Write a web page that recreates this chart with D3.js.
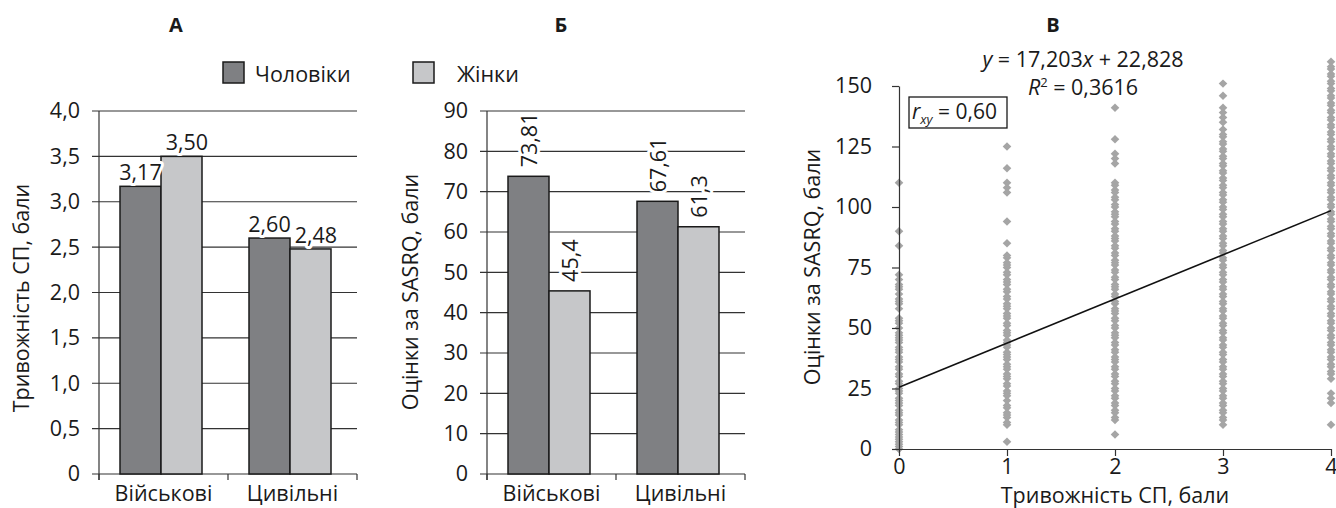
<!DOCTYPE html>
<html><head><meta charset="utf-8">
<script src="https://cdn.jsdelivr.net/npm/d3@7"></script>
<style>
body{margin:0;background:#fff;}
svg text{font-family:"Open Sans",sans-serif;fill:#1a1a1a;}
</style></head>
<body><svg id="c" width="1336" height="508"></svg>
<script>
// ---------- data ----------
const categories = ["Військові", "Цивільні"];
const seriesNames = ["Чоловіки", "Жінки"];
const anxietyMen = [3.17, 2.60];
const anxietyWomen = [3.50, 2.48];
const anxietyLabels = [["3,17", "2,60"], ["3,50", "2,48"]];
const sasrqMen = [73.81, 67.61];
const sasrqWomen = [45.4, 61.3];
const sasrqLabels = [["73,81", "67,61"], ["45,4", "61,3"]];
const ticksA = [0, 0.5, 1, 1.5, 2, 2.5, 3, 3.5, 4];
const ticksB = [0, 10, 20, 30, 40, 50, 60, 70, 80, 90];
const ticksCx = [0, 1, 2, 3, 4];
const ticksCy = [0, 25, 50, 75, 100, 125, 150];
// scatter: SASRQ scores at each anxiety level
const scoresAt0 = [0,1,2,3,4,5,6,7,8,10,11,12,14,15,16,18,19,20,21,23,24,25,27,28,30,31,33,34,36,37,38,40,41,42,44,45,46,47,48,50,52,53,54,58,60,61,62,64,66,67,68,70,72,84,90,110];
const scoresAt1 = [3,10,11,13,14,15,17,18,20,22,23,24,26,27,29,30,31,33,34,35,37,38,39,40,42,43,44,45,47,48,49,51,52,54,55,56,58,59,60,62,63,65,66,68,69,70,72,73,75,76,77,79,80,85,94,106,108,110,116,125];
const scoresAt2 = [6,12,13,15,16,18,19,21,22,24,25,27,28,30,31,33,34,36,37,38,40,41,43,44,46,47,48,50,51,53,54,56,57,58,60,61,63,64,66,67,68,70,71,73,74,76,77,78,80,81,83,84,86,87,88,90,91,93,94,96,97,98,100,101,103,104,106,107,109,110,118,120,122,128,141];
const scoresAt3 = [10,12,13,15,16,18,19,21,22,24,25,27,28,30,31,33,34,36,37,39,40,42,43,45,46,48,49,51,52,54,55,57,58,60,61,63,64,66,67,69,70,72,73,75,76,78,79,81,82,84,85,87,88,90,91,93,94,96,97,99,100,102,103,105,106,108,109,111,112,114,115,117,118,120,121,123,124,126,127,129,130,132,135,137,139,141,146,151];
const scoresAt4 = [10,19,21,23,29,31,32,34,35,37,38,40,41,43,44,46,47,49,50,52,53,55,56,58,59,61,62,64,65,67,68,70,71,73,74,76,77,79,80,82,83,85,86,88,89,91,92,94,95,97,98,100,101,103,104,106,107,109,110,112,113,115,116,118,119,121,122,124,125,127,128,130,131,133,134,136,137,139,140,142,143,145,146,148,149,151,152,154,155,157,158,160];
const scatterSeries = [scoresAt0, scoresAt1, scoresAt2, scoresAt3, scoresAt4];
const trendX = [0, 4];
const trendY = [25.5, 98.5];

// ---------- drawing ----------
const FS = 21.5;
const svg = d3.select("#c");
const menFill = "#7f8083", womenFill = "#c6c7c9", ink = "#1a1a1a", gridCol = "#333";
const comma = v => String(v).replace(".", ",");

function barPanel(opts){
  const {x0, x1, yMax, ticks, fmt, men, women, labels, rotated, title, titleX, yTitle, yTitleX, yTitleY} = opts;
  const y = d3.scaleLinear().domain([0, yMax]).range([474, 111]);
  const xb = d3.scaleBand().domain(categories).range([x0, x1]);
  const xs = d3.scaleBand().domain([0, 1]).range([21, 103]);
  const g = svg.append("g");
  g.selectAll("line.grid").data(ticks).join("line")
    .attr("x1", x0 - 7).attr("x2", x1).attr("y1", d => y(d)).attr("y2", d => y(d))
    .attr("stroke", gridCol).attr("stroke-width", 1.2);
  g.append("line").attr("x1", x0).attr("x2", x0).attr("y1", y(yMax)).attr("y2", 480)
    .attr("stroke", gridCol).attr("stroke-width", 1.2);
  const edges = [x0, ...categories.map(c => xb(c) + xb.bandwidth())];
  g.selectAll("line.bt").data(edges).join("line")
    .attr("x1", d => d).attr("x2", d => d).attr("y1", 474).attr("y2", 480)
    .attr("stroke", gridCol).attr("stroke-width", 1.2);
  const ax = d3.axisLeft(y).tickValues(ticks).tickFormat(fmt).tickSize(0).tickPadding(19);
  const axg = g.append("g").attr("transform", `translate(${x0},0)`).call(ax);
  axg.select(".domain").remove();
  axg.selectAll("text").attr("font-size", FS).attr("font-family", "Open Sans").attr("fill", ink);
  const vals = [men, women];
  vals.forEach((arr, si) => {
    g.selectAll(null).data(categories).join("rect")
      .attr("x", c => xb(c) + xs(si)).attr("width", xs.bandwidth())
      .attr("y", (c, i) => y(arr[i])).attr("height", (c, i) => 474 - y(arr[i]))
      .attr("fill", si === 0 ? menFill : womenFill).attr("stroke", ink).attr("stroke-width", 1.5);
  });
  categories.forEach((c, i) => {
    let prevRight = -Infinity;
    vals.forEach((arr, si) => {
      const cx = xb(c) + xs(si) + xs.bandwidth() / 2;
      const t = g.append("text").text(labels[si][i]).attr("font-size", FS)
        .attr("stroke", "#fff").attr("stroke-width", 6).attr("paint-order", "stroke")
        .attr("stroke-linejoin", "round");
      if (rotated) {
        t.attr("transform", `translate(${cx + 8},${y(arr[i]) - 9}) rotate(-90)`).attr("text-anchor", "start");
      } else {
        t.attr("x", cx).attr("y", y(arr[i]) - 6).attr("text-anchor", "middle");
        const bb = t.node().getBBox();
        if (bb.x < prevRight + 4) t.attr("x", cx + (prevRight + 4 - bb.x));
        const nb = t.node().getBBox();
        prevRight = nb.x + nb.width;
      }
    });
  });
  g.selectAll(null).data(categories).join("text")
    .attr("x", c => xb(c) + xb.bandwidth() / 2).attr("y", 501)
    .attr("text-anchor", "middle").attr("font-size", FS).text(c => c);
  svg.append("text").attr("x", titleX).attr("y", 32).attr("text-anchor", "middle")
    .attr("font-weight", "bold").attr("font-size", 20).text(title);
  svg.append("text").attr("transform", `translate(${yTitleX},${yTitleY}) rotate(-90)`)
    .attr("text-anchor", "middle").attr("font-size", FS).text(yTitle);
}

barPanel({x0: 99, x1: 357, yMax: 4, ticks: ticksA, fmt: d => d === 0 ? "0" : comma(d3.format(".1f")(d)),
  men: anxietyMen, women: anxietyWomen, labels: anxietyLabels, rotated: false,
  title: "А", titleX: 176, yTitle: "Тривожність СП, бали", yTitleX: 29, yTitleY: 298});
barPanel({x0: 487, x1: 745, yMax: 90, ticks: ticksB, fmt: d => String(d),
  men: sasrqMen, women: sasrqWomen, labels: sasrqLabels, rotated: true,
  title: "Б", titleX: 561, yTitle: "Оцінки за SASRQ, бали", yTitleX: 418, yTitleY: 292});

// legend
const legend = [{x: 223, tx: 255, fill: menFill}, {x: 413, tx: 457, fill: womenFill}];
legend.forEach((l, i) => {
  svg.append("rect").attr("x", l.x).attr("y", 62).attr("width", 21).attr("height", 21)
    .attr("fill", l.fill).attr("stroke", ink).attr("stroke-width", 1.5);
  svg.append("text").attr("x", l.tx).attr("y", 73).attr("dominant-baseline", "central")
    .attr("font-size", FS).text(seriesNames[i]);
});

// ---------- panel В ----------
const xC = d3.scaleLinear().domain([0, 4]).range([899, 1331]);
const yC = d3.scaleLinear().domain([0, 150]).range([449, 86]);
const gC = svg.append("g");
const pts = [];
scatterSeries.forEach((arr, xi) => arr.forEach(v => pts.push([ticksCx[xi], v])));
gC.selectAll("path.pt").data(pts).join("path")
  .attr("d", d => { const cx = xC(d[0]), cy = yC(d[1]); return `M${cx},${cy-4.2}L${cx+4.3},${cy}L${cx},${cy+4.2}L${cx-4.3},${cy}Z`; })
  .attr("fill", "#a5a5a5");
const axY = d3.axisLeft(yC).tickValues(ticksCy).tickSize(7).tickSizeOuter(0).tickPadding(20);
const gy = gC.append("g").attr("transform", "translate(899,0)").call(axY);
const axX = d3.axisBottom(xC).tickValues(ticksCx).tickFormat(d3.format("d")).tickSize(7).tickSizeOuter(0).tickPadding(3);
const gx = gC.append("g").attr("transform", "translate(0,449)").call(axX);
[gy, gx].forEach(a => {
  a.selectAll("path,line").attr("stroke", gridCol).attr("stroke-width", 1.2);
  a.selectAll("text").attr("font-size", FS).attr("font-family", "Open Sans").attr("fill", ink);
});
gC.append("line").attr("x1", xC(trendX[0])).attr("y1", yC(trendY[0]))
  .attr("x2", xC(trendX[1])).attr("y2", yC(trendY[1])).attr("stroke", "#111").attr("stroke-width", 1.6);
svg.append("text").attr("x", 1053).attr("y", 32).attr("text-anchor", "middle")
  .attr("font-weight", "bold").attr("font-size", 20).text("В");
svg.append("text").attr("transform", "translate(820,267) rotate(-90)")
  .attr("text-anchor", "middle").attr("font-size", FS).text("Оцінки за SASRQ, бали");
svg.append("text").attr("x", 1115).attr("y", 503).attr("text-anchor", "middle")
  .attr("font-size", FS).text("Тривожність СП, бали");
const eq = svg.append("text").attr("x", 1083).attr("y", 67).attr("text-anchor", "middle").attr("font-size", FS);
eq.append("tspan").attr("font-style", "italic").text("y");
eq.append("tspan").text(" = 17,203");
eq.append("tspan").attr("font-style", "italic").text("x");
eq.append("tspan").text(" + 22,828");
const r2 = svg.append("text").attr("x", 1083).attr("y", 95).attr("text-anchor", "middle").attr("font-size", FS);
r2.append("tspan").attr("font-style", "italic").text("R");
r2.append("tspan").attr("font-size", 13).attr("dy", -8).text("2");
r2.append("tspan").attr("dy", 8).text(" = 0,3616");
svg.append("rect").attr("x", 909).attr("y", 97).attr("width", 98).attr("height", 31)
  .attr("fill", "#fff").attr("stroke", ink).attr("stroke-width", 1.3);
const rt = svg.append("text").attr("x", 912).attr("y", 119).attr("font-size", FS - 0.5);
rt.append("tspan").attr("font-style", "italic").text("r");
rt.append("tspan").attr("font-style", "italic").attr("font-size", 13).attr("dy", 5).text("xy");
rt.append("tspan").attr("dy", -5).text(" = 0,60");
</script></body></html>
